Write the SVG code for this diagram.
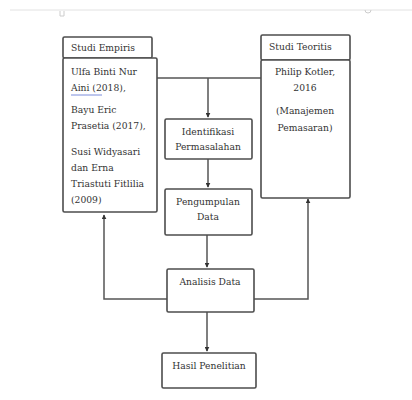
<svg xmlns="http://www.w3.org/2000/svg" width="412" height="400" viewBox="0 0 412 400">
<defs>
<style>
.box{fill:#fff;stroke:#4d4d4d;stroke-width:1.6}
.ln{fill:none;stroke:#555;stroke-width:1.5}
text{font-family:"DejaVu Serif","Liberation Serif",serif;font-size:9.2px;fill:#333}
.c{text-anchor:middle}
</style>
<marker id="ah" viewBox="0 0 8 8" refX="7" refY="4" markerWidth="5" markerHeight="5" orient="auto" markerUnits="userSpaceOnUse">
<path d="M0,0 L8,4 L0,8 z" fill="#333"/>
</marker>
</defs>
<rect width="412" height="400" fill="#fff"/>
<g id="page-edge">
<line x1="10" y1="10" x2="412" y2="10" stroke="#e2e2e2" stroke-width="1"/>
<path d="M60,11 v5 h4 v-5" fill="none" stroke="#ccc" stroke-width="1"/>
<path d="M365,10 a3,3 0 0 0 6,0" fill="none" stroke="#ccc" stroke-width="1"/>
</g>
<g id="connectors">
<path class="ln" d="M157,78 H261"/>
<path class="ln" d="M208,78 V117" marker-end="url(#ah)"/>
<path class="ln" d="M208,159 V187" marker-end="url(#ah)"/>
<path class="ln" d="M207,235 V267" marker-end="url(#ah)"/>
<path class="ln" d="M207,312 V351" marker-end="url(#ah)"/>
<path class="ln" d="M167,299 H104 V215" marker-end="url(#ah)"/>
<path class="ln" d="M254,299 H308 V199" marker-end="url(#ah)"/>
</g>
<g id="studi-empiris">
<rect class="box" x="63" y="37" width="89" height="21" rx="1.5"/>
<rect class="box" x="63" y="58" width="94" height="154" rx="1.5"/>
<text x="71" y="51">Studi Empiris</text>
<text x="71" y="75">Ulfa Binti Nur</text>
<text x="71" y="91">Aini (2018),</text>
<line x1="71" y1="95" x2="102" y2="95" stroke="#6b7fd7" stroke-width="0.9"/>
<text x="71" y="113">Bayu Eric</text>
<text x="71" y="129">Prasetia (2017),</text>
<text x="71" y="155">Susi Widyasari</text>
<text x="71" y="171">dan Erna</text>
<text x="71" y="187">Triastuti Fitlilia</text>
<text x="71" y="203">(2009)</text>
</g>
<g id="studi-teoritis">
<rect class="box" x="261" y="35" width="89" height="25" rx="1.5"/>
<rect class="box" x="261" y="60" width="89" height="138" rx="1.5"/>
<text x="269" y="50">Studi Teoritis</text>
<text class="c" x="305" y="75">Philip Kotler,</text>
<text class="c" x="305" y="91">2016</text>
<text class="c" x="305" y="114">(Manajemen</text>
<text class="c" x="305" y="131">Pemasaran)</text>
</g>
<g id="identifikasi">
<rect class="box" x="165" y="119" width="87" height="40" rx="1.5"/>
<text class="c" x="208" y="135">Identifikasi</text>
<text class="c" x="208" y="150">Permasalahan</text>
</g>
<g id="pengumpulan">
<rect class="box" x="165" y="189" width="87" height="46" rx="1.5"/>
<text class="c" x="208" y="205">Pengumpulan</text>
<text class="c" x="208" y="220">Data</text>
</g>
<g id="analisis">
<rect class="box" x="167" y="269" width="87" height="43" rx="1.5"/>
<text class="c" x="210" y="285">Analisis Data</text>
</g>
<g id="hasil">
<rect class="box" x="162" y="353" width="94" height="35" rx="1.5"/>
<text class="c" x="209" y="369">Hasil Penelitian</text>
</g>
</svg>
